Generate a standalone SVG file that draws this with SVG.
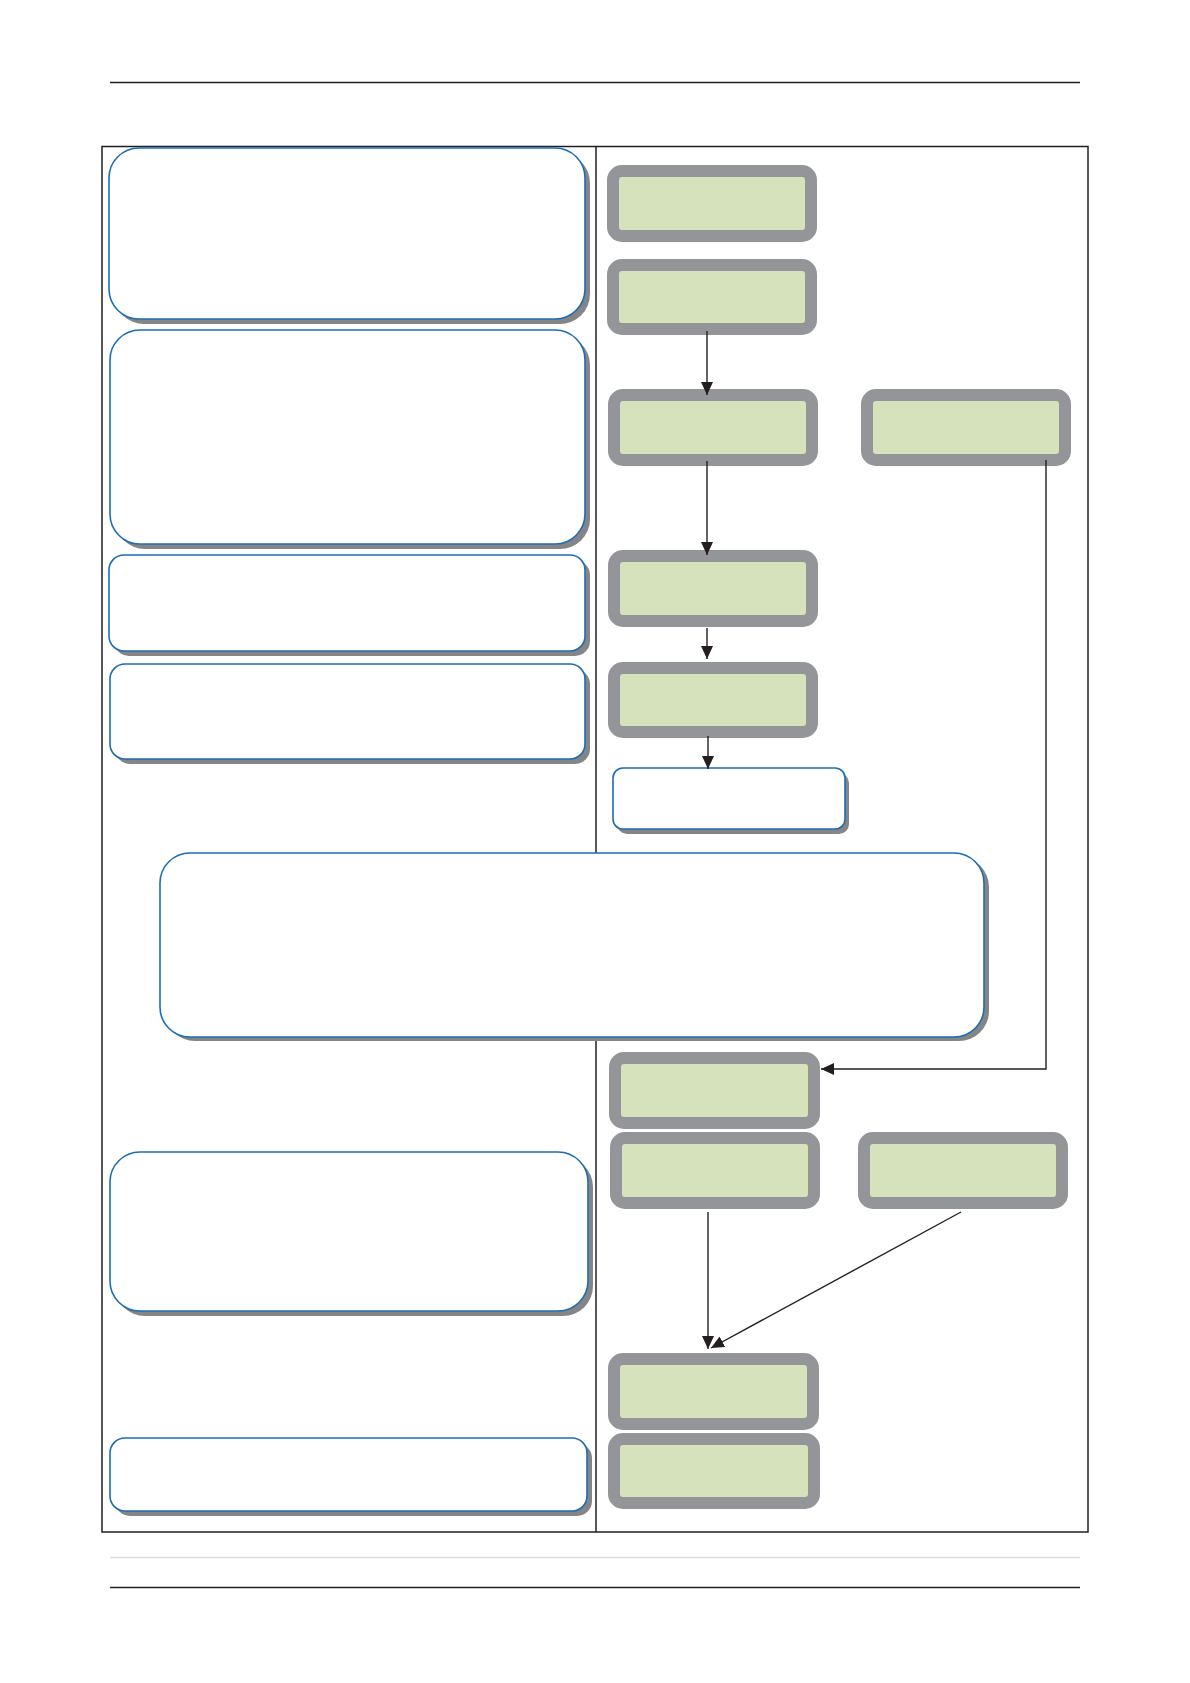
<svg xmlns="http://www.w3.org/2000/svg" width="1190" height="1683" viewBox="0 0 1190 1683">
<style>
.g{fill:#d6e2bc;stroke:#939598;stroke-width:12}
.b{fill:#ffffff;stroke:#1c6db5;stroke-width:1.6}
.s{fill:#858585;stroke:none}
.c{fill:none;stroke:#231f20;stroke-width:1.4}
.f{fill:none;stroke:#231f20;stroke-width:1.5}
</style>
<defs>
<marker id="ah" markerUnits="userSpaceOnUse" markerWidth="13" markerHeight="12" viewBox="0 0 13 12" refX="13" refY="6" orient="auto">
<path d="M0,0 L13,6 L0,12 Z" fill="#231f20"/>
</marker>
</defs>
<rect width="1190" height="1683" fill="#ffffff"/>
<g id="page">
<line x1="110" y1="82.5" x2="1080" y2="82.5" stroke="#231f20" stroke-width="1.3"/>
<line x1="110" y1="1557.5" x2="1080" y2="1557.5" stroke="#dcdcdc" stroke-width="1.3"/>
<line x1="110" y1="1587.5" x2="1080" y2="1587.5" stroke="#231f20" stroke-width="1.3"/>
<rect class="f" x="102" y="146.5" width="986" height="1385.5"/>
<line class="f" x1="596" y1="146.5" x2="596" y2="1532"/>
</g>
<g id="left-boxes">
<g id="b1"><rect class="s" x="114" y="153" width="476" height="171" rx="30"/><rect class="b" x="109" y="148" width="476" height="171" rx="30"/></g>
<g id="b2"><rect class="s" x="115" y="335" width="475" height="214" rx="30"/><rect class="b" x="110" y="330" width="475" height="214" rx="30"/></g>
<g id="b3"><rect class="s" x="114" y="560" width="476" height="96" rx="15"/><rect class="b" x="109" y="555" width="476" height="96" rx="15"/></g>
<g id="b4"><rect class="s" x="115" y="669" width="475" height="95" rx="15"/><rect class="b" x="110" y="664" width="475" height="95" rx="15"/></g>
<g id="b6"><rect class="s" x="115" y="1157" width="478" height="159" rx="30"/><rect class="b" x="110" y="1152" width="478" height="159" rx="30"/></g>
<g id="b7"><rect class="s" x="115" y="1443" width="477" height="73" rx="15"/><rect class="b" x="110" y="1438" width="477" height="73" rx="15"/></g>
</g>
<g id="wide"><rect class="s" x="165" y="857" width="824" height="184" rx="30"/><rect class="b" x="160" y="853" width="824" height="184" rx="30"/></g>
<g id="b5"><rect class="s" x="617" y="773" width="232" height="61" rx="10"/><rect class="b" x="613" y="768" width="232" height="61" rx="10"/></g>
<g id="green-boxes">
<g id="g1"><rect class="g" x="613" y="171" width="198" height="65" rx="9"/></g>
<g id="g2"><rect class="g" x="613" y="265" width="198" height="64" rx="9"/></g>
<g id="g3"><rect class="g" x="614" y="395" width="198" height="65" rx="9"/></g>
<g id="g4"><rect class="g" x="867" y="395" width="198" height="65" rx="9"/></g>
<g id="g5"><rect class="g" x="614" y="556" width="198" height="65" rx="9"/></g>
<g id="g6"><rect class="g" x="614" y="668" width="198" height="64" rx="9"/></g>
<g id="g7"><rect class="g" x="615" y="1058" width="199" height="65" rx="9"/></g>
<g id="g8"><rect class="g" x="616" y="1138" width="198" height="65" rx="9"/></g>
<g id="g9"><rect class="g" x="864" y="1138" width="198" height="65" rx="9"/></g>
<g id="g10"><rect class="g" x="614" y="1359" width="199" height="65" rx="9"/></g>
<g id="g11"><rect class="g" x="614" y="1439" width="200" height="64" rx="9"/></g>
</g>
<g id="connectors">
<line class="c" x1="707" y1="331" x2="707" y2="395" marker-end="url(#ah)"/>
<line class="c" x1="707" y1="461" x2="707" y2="555" marker-end="url(#ah)"/>
<line class="c" x1="707" y1="628" x2="707" y2="659" marker-end="url(#ah)"/>
<line class="c" x1="708" y1="736" x2="708" y2="769" marker-end="url(#ah)"/>
<polyline class="c" points="1046,460 1046,1069 821,1069" marker-end="url(#ah)"/>
<line class="c" x1="708" y1="1212" x2="708" y2="1349" marker-end="url(#ah)"/>
<line class="c" x1="961" y1="1212" x2="711" y2="1348" marker-end="url(#ah)"/>
</g>
</svg>
